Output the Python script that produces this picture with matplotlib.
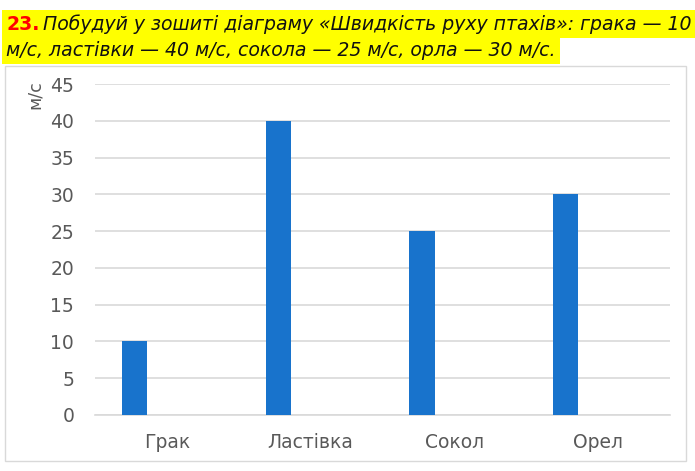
import matplotlib
matplotlib.use('Agg')
import matplotlib.pyplot as plt
from matplotlib.patches import Rectangle

# дані з діаграми
birds = ['Грак', 'Ластівка', 'Сокол', 'Орел']
speed = [10, 40, 25, 30]
yticks = [0, 5, 10, 15, 20, 25, 30, 35, 40, 45]

W, H = 695, 471
fig = plt.figure(figsize=(W / 100, H / 100), dpi=100)
plt.rcParams['font.family'] = ['DejaVu Sans']

# рамка діаграми
fig.patches.append(Rectangle((5 / W, 1 - 461 / H), 681 / W, 395 / H, transform=fig.transFigure,
                             facecolor='white', edgecolor='#d9d9d9', lw=1, zorder=-5))

ax = fig.add_axes([95 / W, 1 - 415 / H, 575 / W, 331 / H])
ax.set_zorder(2)
x = range(len(birds))
ax.bar([i - 0.225 for i in x], speed, width=0.175, color='#1873cc', zorder=3)
ax.set_xlim(-0.5, len(birds) - 0.5)
ax.set_ylim(0, 45)
ax.set_yticks(yticks)
ax.set_xticks(list(x))
ax.set_xticklabels(birds)
ax.grid(axis='y', color='#d9d9d9', lw=1.2, zorder=0)
for s in ['top', 'right', 'left']:
    ax.spines[s].set_visible(False)
ax.spines['bottom'].set_color('#d9d9d9')
ax.spines['bottom'].set_linewidth(1.2)
ax.tick_params(length=0, labelsize=13.5, colors='#595959', pad=15)
ax.tick_params(axis='x', pad=13)
ax.set_facecolor('none')

fig.text(35 / W, 1 - 95 / H, 'м/с', rotation=90, ha='center', va='center', fontsize=12.5, color='#595959')

# заголовок із жовтим виділенням
fs = 13.6
hl = dict(facecolor='#ffff00', edgecolor='none', pad=3)
t0 = fig.text(6 / W, 1 - 24 / H, '23.', color='#ff0000', fontweight='bold', fontsize=fs, va='center', bbox=hl)
fig.canvas.draw()
r = fig.canvas.get_renderer()
bb = t0.get_window_extent(r)
fig.text((bb.x1 + 4) / W, 1 - 24 / H, 'Побудуй у зошиті діаграму «Швидкість руху птахів»: грака — 10',
         style='italic', fontsize=fs, va='center', color='#111111', bbox=hl)
fig.text(6 / W, 1 - 50 / H, 'м/с, ластівки — 40 м/с, сокола — 25 м/с, орла — 30 м/с.',
         style='italic', fontsize=fs, va='center', color='#111111', bbox=hl)

fig.savefig('out.png', dpi=100)
